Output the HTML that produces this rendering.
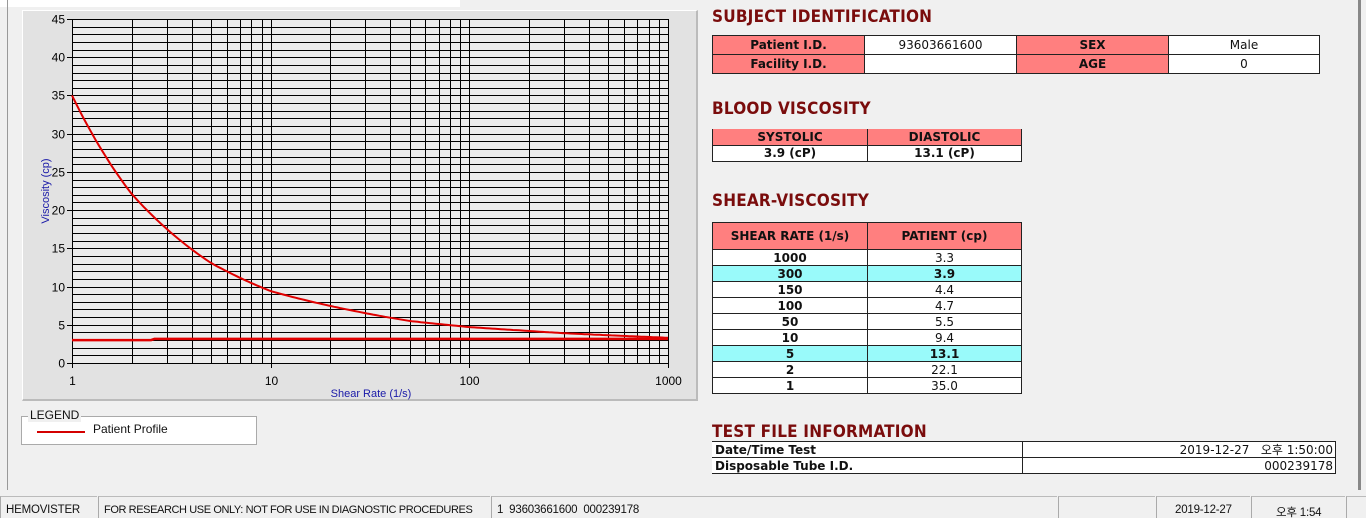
<!DOCTYPE html>
<html><head><meta charset="utf-8">
<style>
*{margin:0;padding:0;box-sizing:border-box}
body{width:1366px;height:518px;background:#f0f0f0;position:relative;overflow:hidden;font-family:"Liberation Sans","Noto Sans CJK KR",sans-serif}
.abs{position:absolute}
h2{position:absolute;font:bold 17px "DejaVu Sans Condensed","Liberation Sans",sans-serif;color:#7a0c0c;letter-spacing:0.2px}
table{position:absolute;border-collapse:collapse;font-family:"DejaVu Sans","Liberation Sans","Noto Sans CJK KR",sans-serif;font-size:12px;color:#111}
td{border:1px solid #222;text-align:center;padding:0;line-height:14px;white-space:nowrap}
.h{background:#ff7f7f;font-weight:bold}
.w{background:#fff}
.c{background:#99fafa;font-weight:bold}
.sb{position:absolute;top:496px;height:22px;border-left:1px solid #aaa;border-top:1px solid #bbb;font-size:11.5px;letter-spacing:-0.2px;padding:7px 0 0 5px;color:#111;white-space:nowrap;overflow:hidden;font-family:"Liberation Sans","Noto Sans CJK KR",sans-serif}
</style></head><body>
<div class="abs" style="left:0;top:0;width:460px;height:7px;background:#fff"></div>
<div class="abs" style="left:7px;top:0;width:1px;height:490px;background:#999"></div>
<div class="abs" style="left:1358px;top:0;width:3px;height:490px;background:#888"></div>
<div class="abs" style="left:22px;top:10px;width:676px;height:391px;background:#e2e2e2;border-right:2px solid #bbb;border-bottom:2px solid #bbb;border-top:1px solid #fff;border-left:1px solid #fff"></div>
<svg class="abs" style="left:0;top:0" width="700" height="405" id="ch">
<rect x="72" y="19" width="596" height="344" fill="#ececec"/>
</svg>
<div class="abs" style="left:21px;top:416px;width:236px;height:29px;background:#fff;border:1px solid #aaa"></div>
<div class="abs" style="left:28px;top:408px;background:#f0f0f0;font-size:12px;padding:0 2px;color:#111">LEGEND</div>
<div class="abs" style="left:37px;top:431px;width:48px;height:2px;background:#d40000"></div>
<div class="abs" style="left:93px;top:422px;font-size:12px;color:#111">Patient Profile</div>

<h2 style="left:712px;top:7px">SUBJECT IDENTIFICATION</h2>
<table style="left:712px;top:35px;width:608px">
<tr style="height:19px"><td class="h" style="width:152px">Patient I.D.</td><td class="w" style="width:152px">93603661600</td><td class="h" style="width:152px">SEX</td><td class="w">Male</td></tr>
<tr style="height:19px"><td class="h">Facility I.D.</td><td class="w"></td><td class="h">AGE</td><td class="w">0</td></tr>
</table>
<h2 style="left:712px;top:99px">BLOOD VISCOSITY</h2>
<table style="left:712px;top:129px;width:310px">
<tr style="height:16px"><td class="h" style="width:155px;border-top:0">SYSTOLIC</td><td class="h" style="border-top:0">DIASTOLIC</td></tr>
<tr style="height:16px"><td class="w" style="font-weight:bold">3.9 (cP)</td><td class="w" style="font-weight:bold">13.1 (cP)</td></tr>
</table>
<h2 style="left:712px;top:191px">SHEAR-VISCOSITY</h2>
<table style="left:712px;top:222px;width:310px">
<tr style="height:27px"><td class="h" style="width:155px">SHEAR RATE (1/s)</td><td class="h">PATIENT (cp)</td></tr>
<tr style="height:16px"><td class="w" style="font-weight:bold">1000</td><td class="w">3.3</td></tr>
<tr style="height:16px"><td class="c">300</td><td class="c">3.9</td></tr>
<tr style="height:16px"><td class="w" style="font-weight:bold">150</td><td class="w">4.4</td></tr>
<tr style="height:16px"><td class="w" style="font-weight:bold">100</td><td class="w">4.7</td></tr>
<tr style="height:16px"><td class="w" style="font-weight:bold">50</td><td class="w">5.5</td></tr>
<tr style="height:16px"><td class="w" style="font-weight:bold">10</td><td class="w">9.4</td></tr>
<tr style="height:16px"><td class="c">5</td><td class="c">13.1</td></tr>
<tr style="height:16px"><td class="w" style="font-weight:bold">2</td><td class="w">22.1</td></tr>
<tr style="height:16px"><td class="w" style="font-weight:bold">1</td><td class="w">35.0</td></tr>
</table>
<h2 style="left:712px;top:422px">TEST FILE INFORMATION</h2>
<table style="left:712px;top:441px;width:624px">
<tr style="height:16px"><td class="w" style="width:310px;text-align:left;font-weight:bold;padding-left:3px;border-left:0">Date/Time Test</td><td class="w" style="text-align:right;padding-right:2px">2019-12-27&nbsp;&nbsp; 오후 1:50:00</td></tr>
<tr style="height:16px"><td class="w" style="text-align:left;font-weight:bold;padding-left:3px;border-left:0">Disposable Tube I.D.</td><td class="w" style="text-align:right;padding-right:2px">000239178</td></tr>
</table>

<div class="sb" style="left:0;width:97px">HEMOVISTER</div>
<div class="sb" style="left:98px;width:392px;font-size:11px;letter-spacing:-0.4px">FOR RESEARCH USE ONLY: NOT FOR USE IN DIAGNOSTIC PROCEDURES</div>
<div class="sb" style="left:491px;width:566px">1&nbsp; 93603661600&nbsp; 000239178</div>
<div class="sb" style="left:1058px;width:97px"></div>
<div class="sb" style="left:1156px;width:94px;padding-left:18px">2019-12-27</div>
<div class="sb" style="left:1251px;width:94px;padding-left:24px">오후 1:54</div>
<div class="sb" style="left:1346px;width:20px"></div>
<script>
var s=document.getElementById('ch'),NS='http://www.w3.org/2000/svg';
function el(t,a,txt){var e=document.createElementNS(NS,t);for(var k in a)e.setAttribute(k,a[k]);if(txt!=null)e.textContent=txt;s.appendChild(e);return e}
var X0=72,X1=668,Y0=363,Y1=19;
function X(v){return X0+(X1-X0)*Math.log10(v)/3}
function Y(v){return Y0-(Y0-Y1)*v/45}
for(var i=0;i<=45;i++){var y=Math.round(Y(i))+.5;el('line',{x1:X0,x2:X1,y1:y,y2:y,stroke:'#000','stroke-width':1});}
for(var d=1;d<=1000;d*=10){for(var m=1;m<=9;m++){var v=d*m;if(v>1000)break;var x=Math.round(X(v))+.5;el('line',{x1:x,x2:x,y1:Y1,y2:Y0,stroke:'#000','stroke-width':1});}}
for(var i=0;i<=45;i+=5){var y=Math.round(Y(i))+.5;el('line',{x1:X0-5,x2:X0,y1:y,y2:y,stroke:'#000'});el('text',{x:X0-7,y:y+4,'font-size':12,'text-anchor':'end',fill:'#000','font-family':'Liberation Sans'},String(i));}
[1,10,100,1000].forEach(function(v){var x=Math.round(X(v))+.5;el('line',{x1:x,x2:x,y1:Y0,y2:Y0+5,stroke:'#000'});el('text',{x:x,y:385,'font-size':12,'text-anchor':'middle',fill:'#000','font-family':'Liberation Sans'},String(v));});
el('text',{x:371,y:397,'font-size':11,'text-anchor':'middle',fill:'#1a1aa8','font-family':'Liberation Sans'},'Shear Rate (1/s)');
el('text',{x:49,y:191,'font-size':11,'text-anchor':'middle',fill:'#1a1aa8','font-family':'Liberation Sans',transform:'rotate(-90 49 191)'},'Viscosity (cp)');
var P=[[1,35],[2,22.1],[5,13.1],[10,9.4],[50,5.5],[100,4.7],[150,4.4],[300,3.9],[1000,3.3]];
var d='';for(var i=0;i<=200;i++){var lv=3*i/200,v=Math.pow(10,lv),j=0;while(j<P.length-2&&P[j+1][0]<v)j++;var a=P[j],b=P[j+1],t=(lv-Math.log10(a[0]))/(Math.log10(b[0])-Math.log10(a[0]));var la=Math.log(a[1]),lb=Math.log(b[1]);var yv=Math.exp(la+(lb-la)*t);d+=(i?'L':'M')+X(v).toFixed(1)+','+Y(yv).toFixed(1);}
el('path',{d:d,fill:'none',stroke:'#e00000','stroke-width':2});
el('path',{d:'M'+X0+','+Y(3.0)+'L'+X(2.5)+','+Y(3.0)+'L'+X(2.6)+','+Y(3.15)+'L'+X1+','+Y(3.15),fill:'none',stroke:'#e00000','stroke-width':2.5});
</script>
</body></html>
